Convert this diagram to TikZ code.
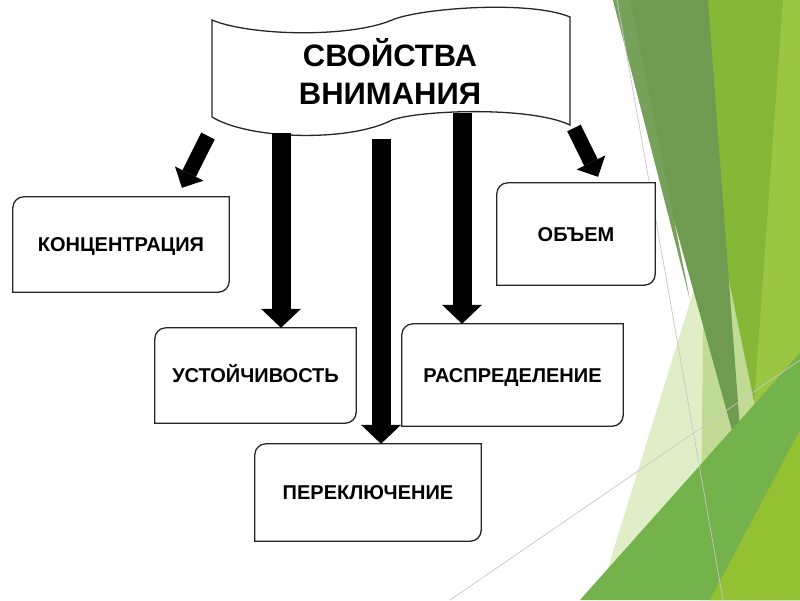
\documentclass[tikz,border=0pt]{standalone}
\usepackage{fontspec}
\setmainfont{Liberation Sans}
\usetikzlibrary{arrows.meta,backgrounds}

\definecolor{dgreen}{HTML}{6F9B51}
\definecolor{sgreen}{HTML}{76A15A}
\definecolor{ygreen}{HTML}{87B737}
\definecolor{lgreen}{HTML}{9BC641}
\definecolor{pgreen}{HTML}{D5E8B5}
\definecolor{mgreen}{HTML}{74B24C}
\definecolor{tgreen}{HTML}{94C132}

\begin{document}
\begin{tikzpicture}[x=1pt,y=-1pt,
  box/.style={fill=white,inner sep=0pt,font=\fontsize{20}{22}\selectfont\bfseries,
    text height=14.3pt,text depth=0pt},
  boxline/.style={line width=1.3pt,black!85},
  bigarrow/.style={line width=19pt,-{Triangle[width=40pt,length=19pt,line width=0pt]}},
  smallarrow/.style={line width=15pt,-{Triangle[width=32pt,length=16pt,line width=0pt]}}]
  \useasboundingbox (0,0) rectangle (800,600);

  % green facets on the right
  \begin{scope}[on background layer]
    \fill[ygreen] (707,0) -- (800,0) -- (800,600) -- (700,600) -- cycle;
    \fill[lgreen] (783,0) -- (800,0) -- (800,600) -- (740,600) -- cycle;
    \fill[pgreen,opacity=.75] (716,218) -- (598,600) -- (795,600) -- cycle;
    \fill[dgreen] (613,0) -- (708,0) -- (743,470) -- cycle;
    \fill[sgreen] (613,0) -- (630,0) -- (690,300) -- cycle;
    \fill[mgreen] (580,600) -- (800,353) -- (800,600) -- cycle;
    \fill[tgreen] (710,600) -- (800,430) -- (800,600) -- cycle;
    \draw[black!22,line width=.7pt] (617,0) -- (723,600);
    \draw[black!22,line width=.7pt] (450,600) -- (800,360);
  \end{scope}

  % banner
  \draw[boxline,fill=white] (212,20) .. controls (250,36) and (350,38) .. (392,20)
    .. controls (420,8) and (530,0) .. (570,17) -- (570,125)
    .. controls (530,106) and (420,110) .. (392,120)
    .. controls (350,142) and (250,140) .. (212,117) -- cycle;
  \node[font=\fontsize{31}{38}\selectfont\bfseries,align=center,inner sep=0pt]
    (title) at (390,71) {СВОЙСТВА\\ВНИМАНИЯ};

  % boxes
  \node[box,minimum width=216pt,minimum height=95pt] (conc) at (121,244.5) {КОНЦЕНТРАЦИЯ};
  \node[box,minimum width=201pt,minimum height=95pt] (ustoy) at (255.5,375.5) {УСТОЙЧИВОСТЬ};
  \node[box,minimum width=221pt,minimum height=102pt] (raspr) at (512.5,375) {РАСПРЕДЕЛЕНИЕ};
  \node[box,minimum width=226pt,minimum height=97pt] (perekl) at (368,492.5) {ПЕРЕКЛЮЧЕНИЕ};
  \node[box,minimum width=158pt,minimum height=102pt] (obem) at (576,234) {ОБЪЕМ};
  \foreach \b in {conc,ustoy,raspr,perekl,obem}
    \draw[boxline] (\b.south west) -- ([yshift=-11pt]\b.north west)
      arc[start angle=180,end angle=90,radius=11pt] -- (\b.north east)
      -- ([yshift=11pt]\b.south east) arc[start angle=0,end angle=-90,radius=11pt] -- cycle;

  % arrows
  \coordinate (s1) at (208,136);
  \coordinate (s2) at (281,133);
  \coordinate (s3) at (381,139);
  \coordinate (s4) at (462,113);
  \coordinate (s5) at (574,128);
  \draw[smallarrow] (s1) -- ([xshift=61pt,yshift=9pt]conc.north);
  \draw[bigarrow] (s2) -- (s2 |- ustoy.north);
  \draw[bigarrow] (s3) -- (s3 |- perekl.north);
  \draw[bigarrow] (s4) -- (s4 |- raspr.north);
  \draw[smallarrow] (s5) -- ([xshift=22pt,yshift=6pt]obem.north);
\end{tikzpicture}
\end{document}
